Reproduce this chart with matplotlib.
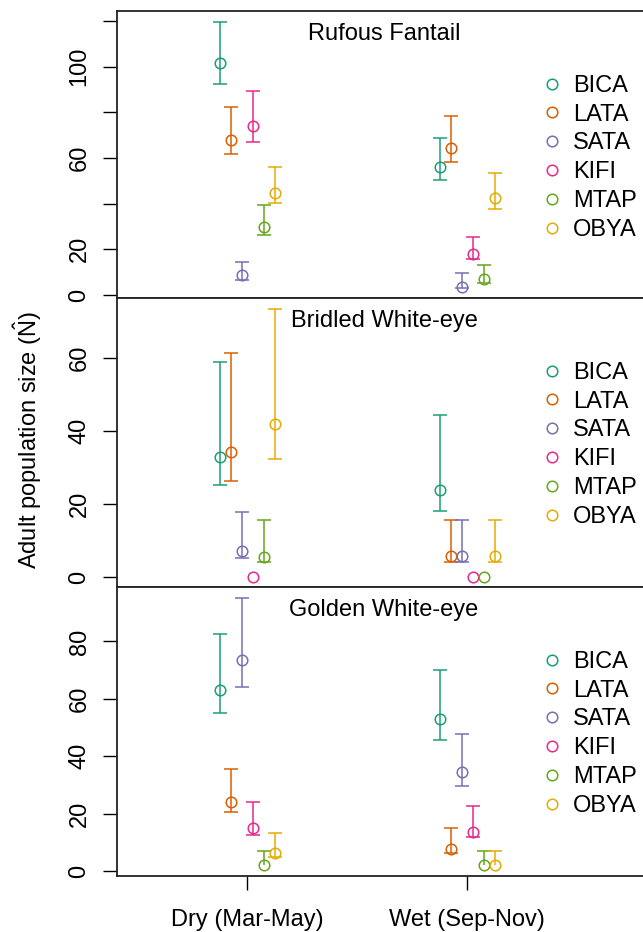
import matplotlib
matplotlib.use("Agg")
import matplotlib.pyplot as plt
from matplotlib.lines import Line2D
import numpy as np

plt.rcParams['font.family'] = ['Liberation Sans', 'DejaVu Sans']
plt.rcParams['mathtext.fontset'] = 'custom'
plt.rcParams['mathtext.rm'] = 'Liberation Sans'
plt.rcParams['mathtext.it'] = 'Liberation Sans:italic'

species = ['BICA', 'LATA', 'SATA', 'KIFI', 'MTAP', 'OBYA']
colors = ['#1B9E77', '#D95F02', '#7570B3', '#E7298A', '#66A61E', '#E6AB02']
seasons = ['Dry (Mar-May)', 'Wet (Sep-Nov)']
titles = ['Rufous Fantail', 'Bridled White-eye', 'Golden White-eye']

# Rufous Fantail
rf_dry_est = [101.4, 68.0, 8.8, 74.1, 29.9, 44.6]
rf_dry_lo = [92.3, 61.6, 6.6, 67.1, 26.4, 40.1]
rf_dry_hi = [119.3, 82.3, 14.6, 89.4, 39.5, 56.1]
rf_wet_est = [55.9, 64.5, 3.6, 18.0, 7.0, 42.5]
rf_wet_lo = [50.2, 58.1, 3.1, 15.6, 5.4, 37.8]
rf_wet_hi = [68.6, 78.2, 9.5, 25.5, 13.1, 53.4]

# Bridled White-eye
bw_dry_est = [32.8, 34.3, 7.0, 0, 5.5, 41.8]
bw_dry_lo = [25.1, 26.3, 5.3, 0, 4.2, 32.3]
bw_dry_hi = [58.9, 61.2, 17.8, 0, 15.5, 73.4]
bw_wet_est = [23.7, 5.6, 5.6, 0, 0, 5.6]
bw_wet_lo = [18.1, 4.2, 4.2, 0, 0, 4.2]
bw_wet_hi = [44.4, 15.5, 15.5, 0, 0, 15.5]

# Golden White-eye
gw_dry_est = [63.0, 24.1, 73.4, 15.0, 2.2, 6.2]
gw_dry_lo = [54.9, 20.5, 64.1, 12.7, 2.2, 4.7]
gw_dry_hi = [82.6, 35.4, 95.1, 24.2, 7.0, 13.4]
gw_wet_est = [52.8, 7.5, 34.5, 13.7, 2.1, 2.1]
gw_wet_lo = [45.8, 6.2, 29.7, 11.9, 2.1, 2.1]
gw_wet_hi = [70.0, 14.9, 47.9, 22.7, 7.0, 7.0]

panels = [
    (rf_dry_est, rf_dry_lo, rf_dry_hi, rf_wet_est, rf_wet_lo, rf_wet_hi),
    (bw_dry_est, bw_dry_lo, bw_dry_hi, bw_wet_est, bw_wet_lo, bw_wet_hi),
    (gw_dry_est, gw_dry_lo, gw_dry_hi, gw_wet_est, gw_wet_lo, gw_wet_hi),
]
ylims = [(-1.3, 124.3), (-2.75, 76.3), (-1.75, 98.95)]
yticks = [[0, 20, 40, 60, 80, 100, 120], [0, 20, 40, 60], [0, 20, 40, 60, 80]]
ylabels_shown = [['0', '20', '', '60', '', '100', ''],
                 ['0', '20', '40', '60'],
                 ['0', '20', '40', '60', '80']]

offsets = np.array([-0.125, -0.075, -0.025, 0.025, 0.075, 0.125])
FS = 17
W, H = 643, 932
fig = plt.figure(figsize=(W / 100, H / 100), dpi=100)

bounds_px = [(11, 298), (298, 587), (587, 876)]
left_px = 117
for p, (data, (t, b)) in enumerate(zip(panels, bounds_px)):
    ax = fig.add_axes([left_px / W, 1 - b / H, 1 - left_px / W, (b - t) / H])
    d_est, d_lo, d_hi, w_est, w_lo, w_hi = data
    for s, (est, lo, hi) in enumerate([(d_est, d_lo, d_hi), (w_est, w_lo, w_hi)]):
        base = s + 1
        for i in range(6):
            x = base + offsets[i]
            c = colors[i]
            if hi[i] > est[i]:
                ax.vlines(x, est[i], hi[i], colors=c, lw=1.1)
                ax.plot([x], [hi[i]], marker='_', ms=9.6, mew=1.1, color=c)
            if lo[i] < est[i]:
                ax.vlines(x, lo[i], est[i], colors=c, lw=1.1)
                ax.plot([x], [lo[i]], marker='_', ms=9.6, mew=1.1, color=c)
            ax.plot([x], [est[i]], marker='o', ms=7.6, mfc='none', mec=c, mew=1.1, ls='none')
    ax.set_xlim(0.408, 2.80)
    ax.set_ylim(*ylims[p])
    ax.set_yticks(yticks[p])
    ax.set_yticklabels(ylabels_shown[p], rotation=90, va='center', fontsize=FS)
    ax.tick_params(axis='y', length=10, width=1.0, pad=9, direction='out')
    if p == 2:
        ax.set_xticks([1, 2])
        ax.set_xticklabels(seasons, fontsize=FS)
        ax.tick_params(axis='x', length=10, width=1.0, pad=14, direction='out')
    else:
        ax.set_xticks([])
    for sp in ['left', 'top', 'bottom']:
        ax.spines[sp].set_linewidth(1.3)
        ax.spines[sp].set_color('#222222')
    ax.spines['right'].set_visible(False)
    ax.text((384 - left_px) / (W - left_px), 1 - 29 / (b - t), titles[p],
            transform=ax.transAxes, ha='center', va='baseline', fontsize=FS)
    handles = [Line2D([], [], ls='none', marker='o', mfc='none', mec=c, ms=7.6, mew=1.1)
               for c in colors]
    ax.legend(handles, species, loc='upper left',
              bbox_to_anchor=((542.3 - left_px) / (W - left_px), 1 - 63.8 / (b - t)),
              bbox_transform=ax.transAxes, frameon=False, handlelength=0.8,
              handletextpad=0.5, labelspacing=0.29, borderpad=0, borderaxespad=0,
              fontsize=FS)

fig.text(28 / W, 1 - 440 / H, r'Adult population size ($\hat{\mathrm{N}}$)',
         rotation=90, ha='center', va='center', fontsize=FS)

fig.savefig('out.png', dpi=100)
